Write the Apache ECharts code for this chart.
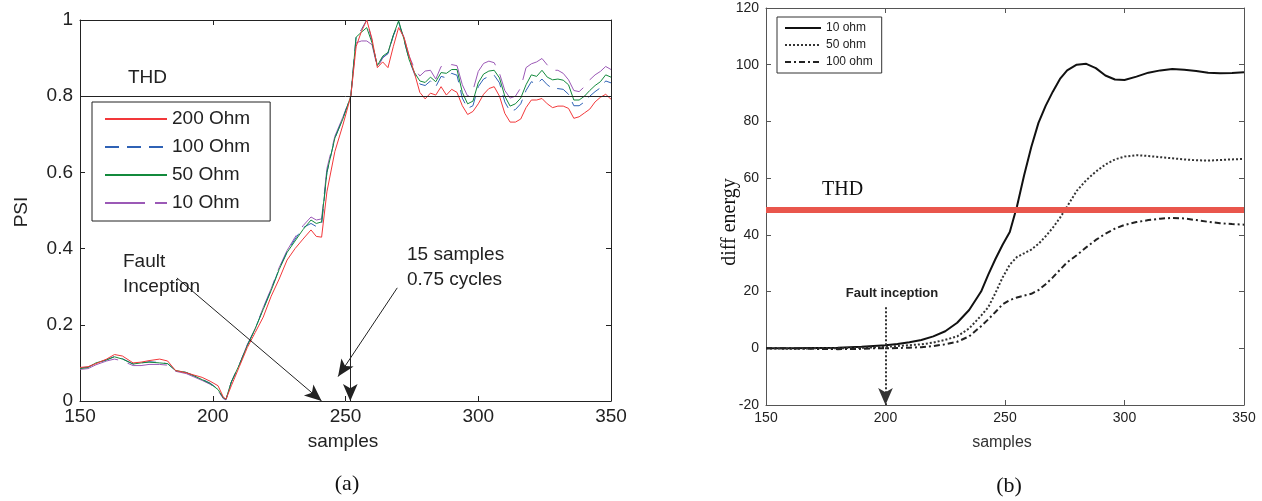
<!DOCTYPE html>
<html>
<head>
<meta charset="utf-8">
<script src="https://cdn.jsdelivr.net/npm/echarts@6/dist/echarts.min.js"></script>
<style>
  html, body { margin: 0; padding: 0; background: #fff; }
  #main { width: 1262px; height: 501px; }
</style>
</head>
<body>
<div id="main"></div>
<script>
// (a) PSI vs samples, 4 fault resistances
var samplesA = [150, 153, 156, 160, 163, 166, 170, 173, 176, 180, 183, 186, 190, 193, 196, 199, 202, 204, 205, 207,
  210, 213, 216, 219, 222, 225, 228, 231, 234, 237, 239, 241, 243, 246, 249, 252, 254, 256, 258, 260,
  262, 264, 266, 268, 270, 272, 274, 276, 278, 280, 282, 284, 286, 288, 290, 292, 294, 296, 298, 300,
  302, 304, 306, 308, 310, 312, 314, 316, 318, 320, 322, 324, 326, 328, 330, 332, 334, 336, 338, 340,
  342, 344, 346, 348, 350];
var psi200 = [0.088, 0.09, 0.098, 0.11, 0.122, 0.118, 0.1, 0.102, 0.106, 0.11, 0.105, 0.08, 0.074, 0.068, 0.062, 0.052, 0.04, 0.01, 0.005, 0.04,
  0.09, 0.14, 0.18, 0.22, 0.275, 0.32, 0.37, 0.4, 0.425, 0.449, 0.432, 0.43, 0.549, 0.655, 0.724, 0.8, 0.93, 0.97, 1.0, 0.95,
  0.875, 0.89, 0.875, 0.93, 0.98, 0.955, 0.905, 0.86, 0.81, 0.793, 0.808, 0.803, 0.825, 0.803, 0.818, 0.81, 0.775, 0.752, 0.76, 0.78,
  0.805, 0.82, 0.825, 0.8, 0.755, 0.732, 0.732, 0.74, 0.77, 0.79, 0.79, 0.794, 0.78, 0.77, 0.774, 0.774, 0.768, 0.742, 0.746, 0.756,
  0.766, 0.785, 0.797, 0.805, 0.792];
var psi100 = [0.087, 0.089, 0.099, 0.108, 0.117, 0.111, 0.097, 0.1, 0.103, 0.101, 0.098, 0.08, 0.075, 0.066, 0.057, 0.047, 0.031, 0.008, 0.004, 0.05,
  0.095, 0.146, 0.19, 0.242, 0.292, 0.347, 0.392, 0.425, 0.455, 0.466, 0.458, 0.462, 0.6, 0.69, 0.742, 0.8, 0.958, 0.975, 1.0, 0.945,
  0.878, 0.902, 0.912, 0.958, 0.995, 0.948, 0.895, 0.858, 0.832, 0.828, 0.84, 0.825, 0.852, 0.848, 0.86, 0.855, 0.795, 0.768, 0.775, 0.825,
  0.845, 0.852, 0.855, 0.835, 0.785, 0.76, 0.765, 0.78, 0.815, 0.838, 0.832, 0.845, 0.83, 0.82, 0.82, 0.818, 0.805, 0.775, 0.775, 0.785,
  0.8, 0.812, 0.822, 0.84, 0.835];
var psi50 = [0.085, 0.088, 0.1, 0.108, 0.116, 0.11, 0.097, 0.1, 0.102, 0.1, 0.098, 0.08, 0.075, 0.066, 0.056, 0.046, 0.03, 0.008, 0.005, 0.05,
  0.095, 0.145, 0.19, 0.24, 0.29, 0.345, 0.39, 0.42, 0.45, 0.475, 0.466, 0.47, 0.6, 0.69, 0.74, 0.8, 0.955, 0.968, 0.98, 0.94,
  0.88, 0.905, 0.915, 0.96, 0.998, 0.95, 0.895, 0.862, 0.84, 0.836, 0.85, 0.838, 0.862, 0.86, 0.87, 0.87, 0.81, 0.78, 0.787, 0.835,
  0.858, 0.866, 0.868, 0.848, 0.8, 0.774, 0.78, 0.795, 0.83, 0.856, 0.852, 0.868, 0.85, 0.843, 0.845, 0.842, 0.83, 0.79, 0.79, 0.8,
  0.815, 0.828, 0.838, 0.856, 0.85];
var psi10 = [0.083, 0.085, 0.095, 0.105, 0.11, 0.105, 0.093, 0.093, 0.096, 0.096, 0.094, 0.078, 0.072, 0.063, 0.054, 0.044, 0.027, 0.006, 0.003, 0.05,
  0.095, 0.148, 0.19, 0.245, 0.295, 0.35, 0.395, 0.43, 0.46, 0.483, 0.475, 0.478, 0.61, 0.695, 0.745, 0.8, 0.94, 0.945, 0.945, 0.935,
  0.875, 0.9, 0.912, 0.96, 0.99, 0.955, 0.905, 0.872, 0.853, 0.866, 0.868, 0.845, 0.878, 0.875, 0.883, 0.88, 0.83, 0.8, 0.815, 0.865,
  0.886, 0.892, 0.888, 0.86, 0.815, 0.795, 0.8, 0.822, 0.875, 0.885, 0.89, 0.899, 0.882, 0.868, 0.868, 0.86, 0.843, 0.815, 0.812, 0.825,
  0.843, 0.856, 0.865, 0.878, 0.87];

// (b) diff energy vs samples
var samplesB = [150, 160, 170, 180, 190, 195, 200, 205, 210, 215, 220, 225, 230, 235, 240, 243, 246, 249, 252, 255,
  258, 261, 264, 267, 270, 273, 276, 280, 284, 288, 292, 296, 300, 305, 310, 315, 320, 325, 330, 335,
  340, 345, 350];
var energy10 = [0, 0, 0.1, 0.2, 0.5, 0.8, 1.1, 1.5, 2.1, 2.9, 4.2, 6, 9, 13.5, 20, 26, 31.5, 36.5, 41, 50,
  61, 71, 79.5, 85.5, 90.5, 95, 98, 100, 100.3, 98.8, 96.2, 94.8, 94.6, 95.8, 97.2, 98, 98.5, 98.2, 97.8, 97.2,
  97, 97.1, 97.3];
var energy50 = [0, -0.2, 0, 0, 0.2, 0.3, 0.5, 0.8, 1.1, 1.4, 2, 3, 4.2, 7, 11.5, 14.5, 19.5, 25, 29.5, 32.2,
  33.5, 34.8, 36.8, 39.5, 42.5, 46, 50, 55.5, 59.3, 62.3, 64.8, 66.6, 67.6, 68.1, 67.8, 67.4, 67, 66.6, 66.3, 66.2,
  66.4, 66.6, 66.8];
var energy100 = [0, 0, -0.2, -0.3, -0.2, 0, 0, 0.1, 0.2, 0.4, 0.8, 1.4, 2.3, 4.2, 7.8, 10.2, 12.8, 15.5, 17, 17.9,
  18.6, 19.2, 20.5, 22.6, 25, 27.7, 30.3, 32.8, 35.6, 38.2, 40.4, 42.2, 43.5, 44.5, 45.2, 45.7, 46, 45.8, 45.2, 44.6,
  44.1, 43.8, 43.6];

var thdA = 0.8;
var thdB = 49;
var faultArrowA = [[186.5, 0.323], [241, 0]];
var delayArrowA = [[269.5, 0.297], [247.2, 0.064]];
var detectLineA = [[251.8, thdA], [251.8, 0]];
var faultArrowB = [[200, 14.5], [200, -20]];

function pairs(xs, ys) {
  return xs.map(function (x, i) { return [x, ys[i]]; });
}

var chartDom = document.getElementById("main");
var myChart = echarts.init(chartDom);

var sans = "'Liberation Sans', Arial, sans-serif";
var serif = "'Liberation Serif', 'Times New Roman', serif";

function xAx(grid, pos, labels, color, fs) {
  return {
    type: "value", gridIndex: grid, position: pos, min: 150, max: 350, interval: 50,
    axisLine: { show: true, onZero: false, lineStyle: { color: color, width: 1 } },
    axisTick: { show: true, inside: true, length: 5, lineStyle: { color: color } },
    axisLabel: { show: labels, margin: 6, color: "#222", fontSize: fs, fontFamily: sans },
    splitLine: { show: false }
  };
}
function yAx(grid, pos, labels, min, max, step, color, fs) {
  return {
    type: "value", gridIndex: grid, position: pos, min: min, max: max, interval: step,
    axisLine: { show: true, onZero: false, lineStyle: { color: color, width: 1 } },
    axisTick: { show: true, inside: true, length: 5, lineStyle: { color: color } },
    axisLabel: { show: labels, margin: 7, color: "#222", fontSize: fs, fontFamily: sans },
    splitLine: { show: false }
  };
}

function arrow(p0, p1, style) {
  return [
    { coord: p0, symbol: "none" },
    { coord: p1, symbol: "arrow", symbolSize: [11, 17], lineStyle: style }
  ];
}

var blackThin = { color: "#222", width: 1, type: "solid" };

var option = {
  animation: false,
  grid: [
    { left: 80, top: 20, width: 531, height: 381 },
    { left: 766, top: 8, width: 478, height: 397 }
  ],
  xAxis: [
    xAx(0, "bottom", true, "#222", 19),
    xAx(0, "top", false, "#222", 19),
    xAx(1, "bottom", true, "#555", 14),
    xAx(1, "top", false, "#555", 14)
  ],
  yAxis: [
    yAx(0, "left", true, 0, 1, 0.2, "#222", 19),
    yAx(0, "right", false, 0, 1, 0.2, "#222", 19),
    yAx(1, "left", true, -20, 120, 20, "#555", 14),
    yAx(1, "right", false, -20, 120, 20, "#555", 14)
  ],
  legend: [
    {
      data: ["200 Ohm", "100 Ohm", "50 Ohm", "10 Ohm"],
      orient: "vertical", left: 92, top: 102,
      backgroundColor: "#fff", borderColor: "#222", borderWidth: 1,
      padding: [7, 20, 8, 12],
      itemWidth: 62, itemHeight: 14, itemGap: 8,
      itemStyle: { opacity: 0, borderWidth: 0 },
      textStyle: { fontSize: 19, lineHeight: 20, fontFamily: sans, color: "#222" }
    },
    {
      data: ["10 ohm", "50 ohm", "100 ohm"],
      orient: "vertical", left: 777, top: 17,
      backgroundColor: "#fff", borderColor: "#333", borderWidth: 1,
      padding: [5, 9, 5, 7],
      itemWidth: 36, itemHeight: 12, itemGap: 5,
      itemStyle: { opacity: 0, borderWidth: 0 },
      textStyle: { fontSize: 12, lineHeight: 12, fontFamily: sans, color: "#222" }
    }
  ],
  series: [
    {
      name: "200 Ohm", type: "line", xAxisIndex: 0, yAxisIndex: 0, symbol: "none",
      data: pairs(samplesA, psi200), z: 4,
      lineStyle: { color: "#f2383a", width: 1 }, itemStyle: { color: "#f2383a" },
      markLine: {
        silent: true, label: { show: false }, animation: false,
        symbol: ["none", "none"],
        lineStyle: blackThin,
        data: [
          { yAxis: thdA },
          arrow(faultArrowA[0], faultArrowA[1], blackThin),
          arrow(delayArrowA[0], delayArrowA[1], blackThin),
          arrow(detectLineA[0], detectLineA[1], blackThin)
        ]
      }
    },
    {
      name: "100 Ohm", type: "line", xAxisIndex: 0, yAxisIndex: 0, symbol: "none",
      data: pairs(samplesA, psi100), z: 3,
      lineStyle: { color: "#2f62b5", width: 1, type: [14, 8] }, itemStyle: { color: "#2f62b5" }
    },
    {
      name: "50 Ohm", type: "line", xAxisIndex: 0, yAxisIndex: 0, symbol: "none",
      data: pairs(samplesA, psi50), z: 3,
      lineStyle: { color: "#138a3c", width: 1 }, itemStyle: { color: "#138a3c" }
    },
    {
      name: "10 Ohm", type: "line", xAxisIndex: 0, yAxisIndex: 0, symbol: "none",
      data: pairs(samplesA, psi10), z: 2,
      lineStyle: { color: "#9b59b6", width: 1, type: [40, 10] }, itemStyle: { color: "#9b59b6" }
    },
    {
      name: "10 ohm", type: "line", xAxisIndex: 2, yAxisIndex: 2, symbol: "none",
      data: pairs(samplesB, energy10), z: 3,
      lineStyle: { color: "#111", width: 2 }, itemStyle: { color: "#111" },
      markLine: {
        silent: true, label: { show: false }, animation: false,
        symbol: ["none", "none"],
        data: [
          { yAxis: thdB, lineStyle: { color: "#e9564c", width: 6, type: "solid" } },
          arrow(faultArrowB[0], faultArrowB[1], { color: "#333", width: 2, type: [2, 2] })
        ]
      }
    },
    {
      name: "50 ohm", type: "line", xAxisIndex: 2, yAxisIndex: 2, symbol: "none",
      data: pairs(samplesB, energy50), z: 3,
      lineStyle: { color: "#333", width: 2, type: [2, 2] }, itemStyle: { color: "#333" }
    },
    {
      name: "100 ohm", type: "line", xAxisIndex: 2, yAxisIndex: 2, symbol: "none",
      data: pairs(samplesB, energy100), z: 3,
      lineStyle: { color: "#222", width: 2, type: [6, 3, 2, 3] }, itemStyle: { color: "#222" }
    }
  ],
  graphic: [
    { type: "text", x: 128, y: 78, style: { text: "THD", font: "19px " + sans, fill: "#222", align: "left", verticalAlign: "middle" } },
    { type: "text", x: 123, y: 262, style: { text: "Fault", font: "19px " + sans, fill: "#222", align: "left", verticalAlign: "middle" } },
    { type: "text", x: 123, y: 287, style: { text: "Inception", font: "19px " + sans, fill: "#222", align: "left", verticalAlign: "middle" } },
    { type: "text", x: 407, y: 255, style: { text: "15 samples", font: "19px " + sans, fill: "#222", align: "left", verticalAlign: "middle" } },
    { type: "text", x: 407, y: 280, style: { text: "0.75 cycles", font: "19px " + sans, fill: "#222", align: "left", verticalAlign: "middle" } },
    { type: "text", x: 22, y: 212, rotation: Math.PI / 2, style: { text: "PSI", font: "19px " + sans, fill: "#222", align: "center", verticalAlign: "middle" } },
    { type: "text", x: 343, y: 442, style: { text: "samples", font: "19px " + sans, fill: "#222", align: "center", verticalAlign: "middle" } },
    { type: "text", x: 347, y: 484, style: { text: "(a)", font: "22px " + serif, fill: "#111", align: "center", verticalAlign: "middle" } },
    { type: "text", x: 1009, y: 486, style: { text: "(b)", font: "22px " + serif, fill: "#111", align: "center", verticalAlign: "middle" } },
    { type: "text", x: 1002, y: 443, style: { text: "samples", font: "16px " + sans, fill: "#333", align: "center", verticalAlign: "middle" } },
    { type: "text", x: 822, y: 190, style: { text: "THD", font: "20px " + serif, fill: "#111", align: "left", verticalAlign: "middle" } },
    { type: "text", x: 892, y: 293, style: { text: "Fault inception", font: "bold 13px " + sans, fill: "#222", align: "center", verticalAlign: "middle" } },
    { type: "text", x: 730, y: 222, rotation: Math.PI / 2, style: { text: "diff energy", font: "20px " + serif, fill: "#111", align: "center", verticalAlign: "middle" } }
  ]
};

myChart.setOption(option);
</script>
</body>
</html>
